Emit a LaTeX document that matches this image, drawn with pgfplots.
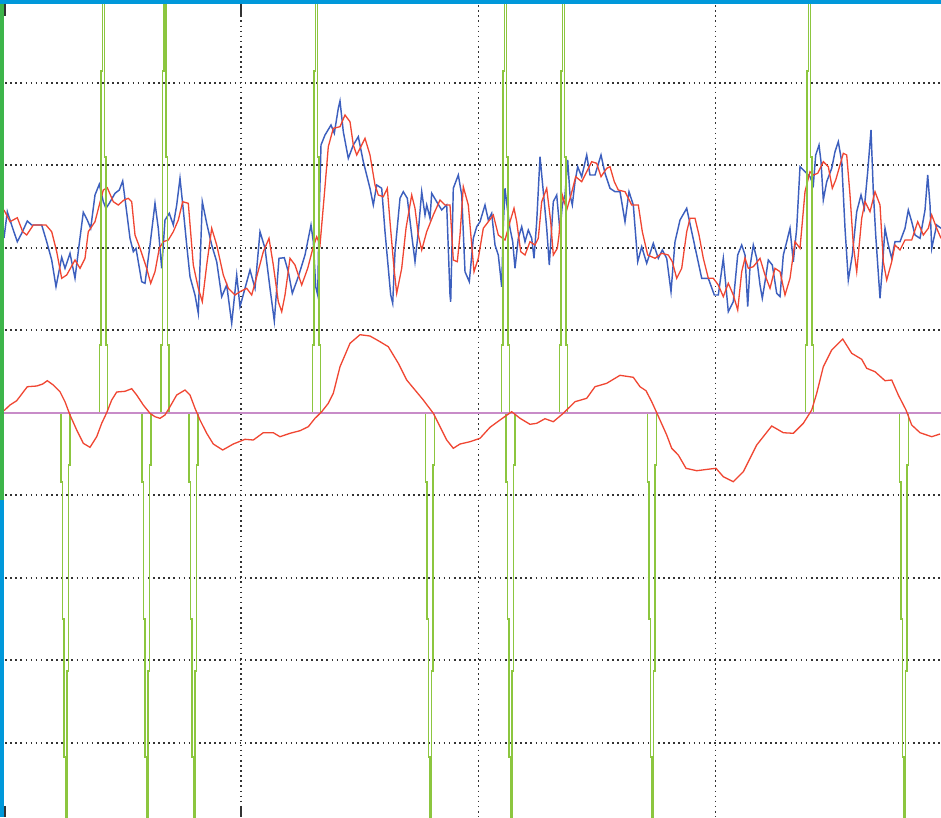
\documentclass[border=0pt]{standalone}
\usepackage{pgfplots}
\pgfplotsset{compat=1.18}
\definecolor{tblue}{HTML}{3C5FBE}
\definecolor{tred}{HTML}{F04632}
\definecolor{tgreen}{HTML}{8CC63F}
\definecolor{tmag}{HTML}{C88CC8}
\definecolor{barblue}{HTML}{0098DA}
\definecolor{bargreen}{HTML}{3DB54A}
\begin{document}
\begin{tikzpicture}
\begin{axis}[
  width=941pt, height=817pt, scale only axis,
  xmin=0, xmax=941, ymin=0, ymax=817, y dir=reverse,
  hide axis, clip=true,
  gridl/.style={no marks, color=black!80, line width=1.6pt, dash pattern=on 1.6pt off 3.5pt},
  spk/.style={no marks, color=tgreen, line width=1.2pt},
]
% white background
\fill[white] (axis cs:0,0) rectangle (axis cs:941,817);
% grid
\addplot[gridl] coordinates {(0,82.7) (941,82.7)};
\addplot[gridl] coordinates {(0,165.2) (941,165.2)};
\addplot[gridl] coordinates {(0,247.7) (941,247.7)};
\addplot[gridl] coordinates {(0,330.2) (941,330.2)};
\addplot[gridl] coordinates {(0,495.2) (941,495.2)};
\addplot[gridl] coordinates {(0,577.7) (941,577.7)};
\addplot[gridl] coordinates {(0,660.2) (941,660.2)};
\addplot[gridl] coordinates {(0,742.7) (941,742.7)};
\addplot[gridl] coordinates {(241,0) (241,817)};
\addplot[gridl] coordinates {(478.3,0) (478.3,817)};
\addplot[gridl] coordinates {(715.3,0) (715.3,817)};
% blue noisy trace
\addplot[no marks, color=tblue, line width=1.45pt] coordinates {
(4,238) (7.3,211.7) (10,220) (13.3,230) (17.3,241.7) (21.7,233.3) (27.3,221) (31.7,225) (41.7,225) (46.7,241.7) (51.7,260) (56,286.7) (61.7,257.3) (65,268.3) (70,253.3) (75,278.3) (79.3,243.3) (83.3,212.3) (87.3,220) (90.7,228.3) (95,195) (99.3,184.3) (103.3,201.7) (106,208.3) (109.3,203.3) (115,193.3) (119.3,190) (122.7,181) (126,206.7) (130,238.3) (133.3,251.7) (136,248.3) (141.7,281.7) (145,283.3) (150,245) (155,203.3) (158.3,228.3) (161.7,268.3) (165,220) (169.3,213.3) (173.3,225) (176.7,205) (180,178.3) (183.3,210) (186.7,245) (190,276.7)
(195,295) (198.3,313.3) (202.3,201.7) (206.7,223.3) (211.7,245) (216.7,261.7) (221.7,296.7) (226.7,285) (231.7,323.3) (236.7,275) (240,306.7) (245,288.3) (250,270) (255,288.3) (260,231.7) (265,248.3) (270,288.3) (274.3,321) (279,258.3) (284.3,257.7) (288.3,271.7) (292.3,293.3) (298.3,276.7) (305,255) (311,225) (313.3,241.7) (315.7,286.7) (317.7,295) (319,221.7) (321,145) (325,135) (331,125) (334.3,133.3) (338.3,108.3) (340,101) (343.3,131.7) (348.3,158.3) (353.3,145) (358.3,136.7) (363.3,161.7) (368.3,181.7)
(370,188.3) (373.3,205) (376.7,185) (381.7,188.3) (385,231.7) (388.3,268.3) (390.7,295) (392.7,303.3) (395,251.7) (400,198.3) (403.3,191.7) (407.3,198.3) (411.7,235) (415,261.7) (418.3,231.7) (421.7,191.7) (425,215) (426.7,205) (430,218.3) (431.7,193.3) (436.7,201.7) (441.7,210) (446.7,205) (450,295) (450.7,301.7) (453.3,188.3) (458.3,175) (461.7,195) (465,271.7) (469.3,281.7) (473.3,238.3) (476.7,226.7) (480,221.7) (485,205) (488.3,220) (491.7,213.3) (495,245) (498.3,255) (501.7,286.7) (503.3,225) (505,188.3) (507.3,208.3) (510,228.3) (512.7,241.7) (515,268.3) (518.3,238.3) (521.7,226.7) (525,241.7) (528.3,230) (531.7,238.3) (534,258.3) (536.7,221.7) (540,156.7) (543.3,191.7) (546.7,228.3) (549.3,265) (553.3,201.7) (556.7,195)
(560,231.7) (562.3,205) (565,195) (567.7,160) (570,195) (572.3,205) (575,181.7) (577.7,166.7) (581.7,176.7) (586.7,155) (590,175) (595,175) (601,155) (605,173.3) (610,188.3) (615,191.7) (620,191.7) (625,221.7) (629,191.7) (633.3,205) (637.7,261.7) (641.7,246.7) (646.7,263.3) (653.3,243.3) (658.3,258.3) (662.3,250) (666.7,258.3) (671,291.7) (675,241.7) (680,220) (686.7,208.3) (691.7,231.7) (696.7,255) (701.7,278.3) (708.3,278.3) (714.3,295) (718.3,295) (723.3,258.3) (728.3,311.7) (733.3,301.7) (737.7,255) (741.7,245)
(745,255) (747.7,306.7) (750,266.7) (753.3,245) (756.7,258.3) (760,285) (762.3,298.3) (765,281.7) (768.3,260) (772.3,265) (776.7,293.3) (780,296.7) (783.3,255) (786.7,241.7) (790,228.3) (793.3,261.7) (796.7,228.3) (800,166.7) (805,171.7) (810,176.7) (813.3,185) (815.7,155) (819,145) (821,161.7) (823.3,200) (826.7,181.7) (831.7,168.3) (835,151.7) (838.3,141.7) (841.7,161.7) (845,228.3) (848.3,280) (852.3,255) (856.7,211.7) (861,195) (864.3,208.3) (867.7,171.7) (871,130) (873.3,191.7) (875.7,235) (880,298.3) (882.3,268.3) (885,228.3) (888.3,245) (891.7,258.3) (895,241.7) (900,241.7) (905,228.3) (908.3,210) (911.7,221.7) (915,235) (920,238.3) (925,210) (927.7,175) (930,205) (931.7,248.3) (936.7,225) (941,228.3)
};
% red smoothed trace
\addplot[no marks, color=tred, line width=1.3pt] coordinates {
(4,210) (10,221.7) (17.3,217.7) (22.7,231.7) (26.7,235) (33.3,225) (46,225) (51.7,231.7) (56.7,251.7) (61.7,278.3) (66.7,275) (75,260) (80,268.3) (85,258.3) (88.3,231.7) (95,221.7) (99.3,205) (103.3,190) (107.3,187.7) (113.3,201.7) (118.3,205) (124,200) (128.3,198.3) (131.7,201.7) (135,235) (140,248.3) (146.7,268.3) (150.7,283.3) (155,271.7) (159.3,248.3) (163.3,241.7) (168.3,240) (173.3,231.7) (178.3,220) (182.7,201.7) (188.3,203.3)
(193.3,265) (198.3,288.3) (202.3,301.7) (206.7,265) (211.7,228.3) (216.7,245) (223.3,275) (228.3,288.3) (235,295) (240,291.7) (246.7,288.3) (251.7,295) (256.7,276.7) (263.3,251.7) (269,238.3) (273.3,265) (278.3,301.7) (281.7,311.7) (285,295) (290,258.3) (295,265) (301.7,285) (307.7,268.3) (313.3,246.7) (316.7,236.7) (320,245) (324.3,195) (328.3,146.7) (333.3,128.3) (340,126.7) (345,115) (350,121.7) (353.3,145) (356.7,155) (360,148.3) (365,138.3) (370,155)
(375,185) (378.3,195) (383.3,196.7) (387.3,188.3) (390,221.7) (394,268.3) (396.7,293.3) (401.7,268.3) (406,228.3) (411.7,195) (415,208.3) (418.3,235) (421.7,250) (426.7,231.7) (433.3,215) (440,200) (445,205) (450,205) (453.3,260) (457.3,261.7) (460,235) (463.3,186.7) (468.3,205) (471.7,245) (474,271.7) (478.3,258.3) (483.3,228.3) (488.3,221.7) (493.3,215) (498.3,235) (505,240) (510,221.7) (514,208.3) (516.7,221.7) (520.7,251.7) (525,255) (530,241.7) (535,245) (538.3,238.3) (541.7,201.7) (546.7,188.3) (550.7,221.7) (553.3,255) (557.3,248.3)
(559,235) (562.3,195) (566.7,210) (571,195) (575.7,176.7) (581.7,181.7) (586.7,171.7) (591.7,161.7) (596.7,163.3) (601,176.7) (606.7,168.3) (610,166.7) (614.3,181.7) (618.3,190) (625,191.7) (631.7,205) (638.3,205) (642.3,231.7) (647.7,255) (655,258.3) (661.7,253.3) (668.3,255) (672.3,261.7) (676.7,278.3) (681.7,268.3) (686.7,231.7) (690,218.3) (695,218.3) (699,235) (703.3,258.3) (708.3,278.3) (713.3,278.3) (718.3,285) (723.3,296.7) (728.3,283.3) (733.3,295) (737.7,310) (741.7,271.7)
(745,258) (748.3,268.3) (753.3,266.7) (760,258.3) (765,275) (770,288.3) (775,268.3) (780,271.7) (785,295) (790,278.3) (795,241.7) (800,248.3) (805,191.7) (810,171.7) (813.3,175) (817.7,173.3) (823.3,161.7) (828.3,166.7) (832.3,188.3) (835.7,180) (840,165) (843.3,153.3) (846.7,155) (850,195) (853.3,245) (856.7,271.7) (861.7,218.3) (865,201.7) (870,211.7) (875,191.7) (880,205) (883.3,261.7) (886.7,280) (891.7,261.7) (895,245) (900,250) (905,240) (911.7,240) (917.7,221.7) (923.3,235) (928.3,228.3) (931.7,215) (936.7,228.3) (941,238.3)
};
% green pulses (up)
\addplot[spk] coordinates {(99.5,413) (99.5,345) (101,345) (101,71) (102.5,71) (102.5,-20) (104.5,-20) (104.5,157) (106,157) (106,345) (107.5,345) (107.5,413)};
\addplot[spk] coordinates {(161,413) (161,345) (162.5,345) (162.5,71) (164,71) (164,-20) (166,-20) (166,157) (167.5,157) (167.5,345) (169,345) (169,413)};
\addplot[spk] coordinates {(312.5,413) (312.5,345) (314,345) (314,71) (315.5,71) (315.5,-20) (317.5,-20) (317.5,157) (319,157) (319,345) (320.5,345) (320.5,413)};
\addplot[spk] coordinates {(501.5,413) (501.5,345) (503,345) (503,71) (504.5,71) (504.5,-20) (506.5,-20) (506.5,157) (508,157) (508,345) (509.5,345) (509.5,413)};
\addplot[spk] coordinates {(559.5,413) (559.5,345) (561,345) (561,71) (562.5,71) (562.5,-20) (564.5,-20) (564.5,157) (566,157) (566,345) (567.5,345) (567.5,413)};
\addplot[spk] coordinates {(805.5,413) (805.5,345) (807,345) (807,71) (808.5,71) (808.5,-20) (810.5,-20) (810.5,157) (812,157) (812,345) (813.5,345) (813.5,413)};
% green pulses (down)
\addplot[spk] coordinates {(61,413) (61,482) (62.5,482) (62.5,619) (64,619) (64,757) (65.5,757) (65.5,840) (67,840) (67,671) (68.5,671) (68.5,465) (70,465) (70,413)};
\addplot[spk] coordinates {(142,413) (142,482) (143.5,482) (143.5,619) (145,619) (145,757) (146.5,757) (146.5,840) (148,840) (148,671) (149.5,671) (149.5,465) (151,465) (151,413)};
\addplot[spk] coordinates {(189,413) (189,482) (190.5,482) (190.5,619) (192,619) (192,757) (193.5,757) (193.5,840) (195,840) (195,671) (196.5,671) (196.5,465) (198,465) (198,413)};
\addplot[spk] coordinates {(425.5,413) (425.5,482) (427,482) (427,619) (428.5,619) (428.5,757) (430,757) (430,840) (431.5,840) (431.5,671) (433,671) (433,465) (434.5,465) (434.5,413)};
\addplot[spk] coordinates {(506,413) (506,482) (507.5,482) (507.5,619) (509,619) (509,757) (510.5,757) (510.5,840) (512,840) (512,671) (513.5,671) (513.5,465) (515,465) (515,413)};
\addplot[spk] coordinates {(647.5,413) (647.5,482) (649,482) (649,619) (650.5,619) (650.5,757) (652,757) (652,840) (653.5,840) (653.5,671) (655,671) (655,465) (656.5,465) (656.5,413)};
\addplot[spk] coordinates {(899.5,413) (899.5,482) (901,482) (901,619) (902.5,619) (902.5,757) (904,757) (904,840) (905.5,840) (905.5,671) (907,671) (907,465) (908.5,465) (908.5,413)};
% magenta reference line
\addplot[no marks, color=tmag, line width=1.6pt] coordinates {(0,413) (941,413)};
% slow red curve
\addplot[no marks, color=tred, line width=1.3pt] coordinates {
(4,410.7) (10,405) (16.7,400.7) (27.3,386.7) (36.7,386) (42.7,384) (47.3,380.7) (53.3,385) (60,391.7) (65,401.7) (70,415) (76.7,430) (83.3,443.3) (90,447.3) (96.7,436.7) (101.7,423.3) (106.7,412.7) (111.7,400) (116.7,392) (125,391.3) (131.7,388.7) (136.7,395) (143.3,405) (150,413.3) (155,416.7) (160,418.3) (165,415) (170,406.7) (176.7,395) (185,390) (190,395) (195,408.3) (200,420) (206.7,433.3) (213.3,444) (222.7,450) (233.3,444) (245,439.3) (253.3,440) (263.3,432.7) (273.3,432.7) (280,436.7) (290,433.3) (300,430.7) (308.3,426.7) (315,418.3) (321.7,411.7) (328.3,403.3) (333.3,393.3) (340,366.7) (350,343.3) (360,334.7) (370,336) (380,341.7) (388.3,346.7) (398.3,363.3) (406.7,380) (415,390) (423.3,400) (433.3,413.3) (440,426.7) (446.7,440) (453.3,448.3) (460,444) (470,441.7) (480,438.3) (490,427.3) (500,420) (511.7,411.7) (520,418.3) (530,424.3) (536.7,423.3) (545,418.7) (553.3,421.7) (563.3,413.3) (575,401.7) (586.7,398.3) (595,386.7) (606.7,383.3) (620,375.3) (633.3,377.3) (640,386.7) (646,390.7) (651.7,401.7) (657.3,414) (666.7,435) (671.7,448.3) (678.3,455) (686,468.3) (696.7,470.7) (710,469) (716,468.3) (723.3,476.7) (733.3,481.7) (743.3,471.7) (756.7,445) (771.7,426) (783.3,432.7) (793.3,433.3) (803.3,423.3) (811.7,410) (816.7,393.3) (823.3,366.7) (831.7,350) (842.7,339) (851.7,353.3) (861.7,359.3) (866.7,368.3) (875,371.7) (885,380.7) (891.7,380) (898.3,395) (906,410) (911.7,425) (920,432.7) (931.7,436.7) (940,434)
};
% frame decorations
\fill[barblue] (axis cs:0,0) rectangle (axis cs:941,3.5);
\fill[bargreen] (axis cs:0,3.5) rectangle (axis cs:4,500);
\fill[barblue] (axis cs:0,500) rectangle (axis cs:4,817);
\draw[black!80, line width=1.3pt] (axis cs:241,3.5) -- (axis cs:241,16);
\draw[black!80, line width=1.3pt] (axis cs:241,806) -- (axis cs:241,817);
\draw[black!80, line width=1.3pt] (axis cs:5,3.5) -- (axis cs:5,16);
\draw[black!80, line width=1.3pt] (axis cs:5,806) -- (axis cs:5,817);
\end{axis}
\pgfresetboundingbox
\useasboundingbox (0,0) rectangle (941pt,817pt);
\end{tikzpicture}
\end{document}
